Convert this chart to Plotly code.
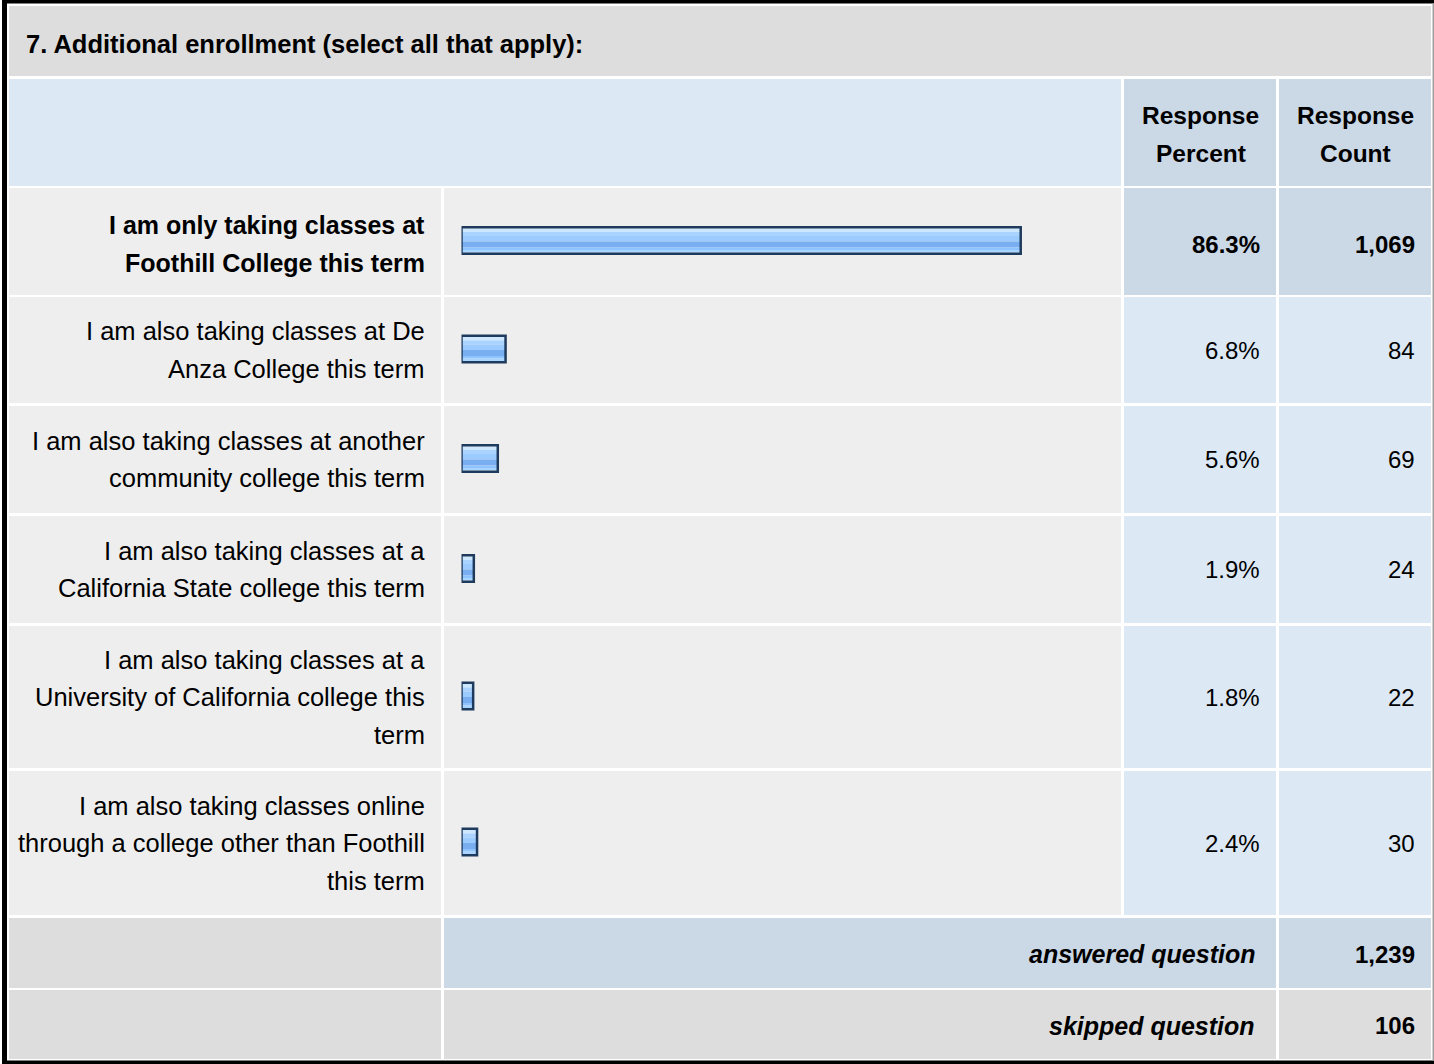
import plotly.graph_objects as go

# ---------------- data ----------------
title = "7. Additional enrollment (select all that apply):"
header_percent = ["Response", "Percent"]
header_count = ["Response", "Count"]
categories = [
    ["I am only taking classes at", "Foothill College this term"],
    ["I am also taking classes at De", "Anza College this term"],
    ["I am also taking classes at another", "community college this term"],
    ["I am also taking classes at a", "California State college this term"],
    ["I am also taking classes at a", "University of California college this", "term"],
    ["I am also taking classes online", "through a college other than Foothill", "this term"],
]
percents = [86.3, 6.8, 5.6, 1.9, 1.8, 2.4]
counts = [1069, 84, 69, 24, 22, 30]
answered_label = "answered question"
answered_count = 1239
skipped_label = "skipped question"
skipped_count = 106

# ---------------- layout geometry (pixels) ----------------
W, H = 1434, 1064
FONT = "Liberation Sans, Arial, Helvetica, sans-serif"
GRAY = "#DDDDDD"
ROWGRAY = "#EEEEEE"
LIGHTBLUE = "#DDE8F5"
DARKBLUE = "#CBD8E6"

row_top = [188, 297, 406, 516, 626, 771]
row_bot = [295, 403, 513, 623, 768, 915]
row_mid = [(a + b) / 2 for a, b in zip(row_top, row_bot)]
text_shift = [2.5, 0, 0, 0, 0, 0]

COL_L = (9, 441)
COL_BAR = (444, 1121)
COL_P = (1124, 1276)
COL_C = (1279, 1431)


def px(x):
    return x / W


def py(y):
    return 1 - y / H


shapes = []


def rect(x0, x1, y0, y1, color):
    shapes.append(dict(type="rect", xref="paper", yref="paper",
                       x0=px(x0), x1=px(x1), y0=py(y1), y1=py(y0),
                       fillcolor=color, line=dict(width=0), layer="below"))


# outer frame
rect(2, 7, 0, H, "#000000")
rect(2, W, 0, 3.5, "#000000")
rect(2, W, 1060.5, H, "#000000")
rect(1432.5, W, 3.5, 1060.5, "#A0A0A0")

# title row
rect(9, 1431, 6, 76, GRAY)
# header row
rect(COL_L[0], COL_BAR[1], 79, 186, LIGHTBLUE)
rect(COL_P[0], COL_P[1], 79, 186, DARKBLUE)
rect(COL_C[0], COL_C[1], 79, 186, DARKBLUE)
# data rows
for i, (t, b) in enumerate(zip(row_top, row_bot)):
    rect(COL_L[0], COL_L[1], t, b, ROWGRAY)
    rect(COL_BAR[0], COL_BAR[1], t, b, ROWGRAY)
    c = DARKBLUE if i == 0 else LIGHTBLUE
    rect(COL_P[0], COL_P[1], t, b, c)
    rect(COL_C[0], COL_C[1], t, b, c)
# answered row
rect(COL_L[0], COL_L[1], 918, 988, GRAY)
rect(COL_BAR[0], COL_P[1], 918, 988, DARKBLUE)
rect(COL_C[0], COL_C[1], 918, 988, DARKBLUE)
# skipped row
rect(COL_L[0], COL_L[1], 990, 1059, GRAY)
rect(COL_BAR[0], COL_P[1], 990, 1059, GRAY)
rect(COL_C[0], COL_C[1], 990, 1059, GRAY)

annotations = []


def text(x, y, s, anchor="right", size=25):
    annotations.append(dict(xref="paper", yref="paper", x=px(x), y=py(y),
                            text=s, showarrow=False, xanchor=anchor,
                            yanchor="middle",
                            font=dict(family=FONT, size=size, color="#000000")))


text(24, 43.5, "<b>%s</b>" % title, anchor="left", size=25.5)
for col_center, lines in ((1200.5, header_percent), (1355.5, header_count)):
    text(col_center, 115.5, "<b>%s</b>" % lines[0], anchor="center", size=24.5)
    text(col_center, 153.5, "<b>%s</b>" % lines[1], anchor="center", size=24.5)

LINE = 37.5
for i, lines in enumerate(categories):
    n = len(lines)
    yc = row_mid[i] + text_shift[i]
    for j, ln in enumerate(lines):
        y = yc + (j - (n - 1) / 2) * LINE
        s = "<b>%s</b>" % ln if i == 0 else ln
        text(426.5, y, s, size=25.5 if i else 25)
    p = "%.1f%%" % percents[i]
    c = "{:,}".format(counts[i])
    if i == 0:
        p, c = "<b>%s</b>" % p, "<b>%s</b>" % c
    text(1262, yc, p, size=24)
    text(1417, yc, c, size=24)

text(1256.5, 954, "<b><i>%s</i></b>" % answered_label, size=25)
text(1416.5, 954, "<b>{:,}</b>".format(answered_count), size=24)
text(1256.5, 1025.5, "<b><i>%s</i></b>" % skipped_label, size=25)
text(1416.5, 1025.5, "<b>{:,}</b>".format(skipped_count), size=24)

# ---------------- bars ----------------
bar_y = [m - 1 for m in row_mid]
bands = [(-12, 3.5, "#CDE7FF"), (-8.5, 4, "#AAD4FF"), (-4.5, 5.5, "#9BCBFF"),
         (1, 6, "#79AFF0"), (7, 2.5, "#8DC4FF"), (9.5, 2.5, "#A8D4FF")]

fig = go.Figure()
for off, wd, col in bands:
    fig.add_trace(go.Bar(x=percents, y=bar_y, orientation="h",
                         width=wd, offset=off, marker=dict(color=col, line=dict(width=0)),
                         hoverinfo="skip", showlegend=False))
fig.add_trace(go.Bar(x=percents, y=bar_y, orientation="h",
                     width=26.5, offset=-13.25,
                     marker=dict(color="rgba(0,0,0,0)", line=dict(color="#1E3A5C", width=2.5)),
                     hoverinfo="skip", showlegend=False))

fig.update_layout(
    width=W, height=H, autosize=False,
    margin=dict(l=0, r=0, t=0, b=0, pad=0),
    paper_bgcolor="#FFFFFF", plot_bgcolor="rgba(0,0,0,0)",
    barmode="overlay",
    xaxis=dict(domain=[px(461.5), px(1109.5)], range=[0, 100], visible=False, fixedrange=True),
    yaxis=dict(domain=[0, 1], range=[H, 0], visible=False, fixedrange=True),
    shapes=shapes, annotations=annotations, showlegend=False,
)

fig.write_html(
    "out.html",
    config={"displayModeBar": False},
    post_script="document.body.style.margin='0';document.body.style.overflow='hidden';",
)
